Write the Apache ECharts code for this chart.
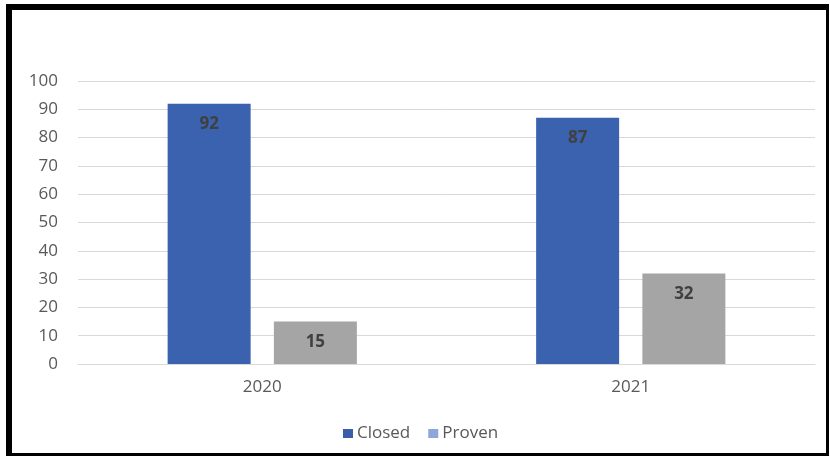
<!DOCTYPE html>
<html>
<head>
<meta charset="utf-8">
<script src="https://cdn.jsdelivr.net/npm/echarts@6/dist/echarts.min.js"></script>
<style>
html,body{margin:0;padding:0;background:#fff;}
#chart{width:830px;height:458px;}
</style>
</head>
<body>
<div id="chart"></div>
<script>
var categories = ['2020', '2021'];
var closedValues = [92, 87];
var provenValues = [15, 32];
var seriesNames = ['Closed', 'Proven'];
var yMin = 0, yMax = 100, yStep = 10;

var chart = echarts.init(document.getElementById('chart'), null, {renderer: 'canvas'});
var font = '"Open Sans", "DejaVu Sans", sans-serif';
var labelStyle = {
  show: true,
  position: 'insideTop',
  distance: 12,
  color: '#404040',
  fontWeight: 'bold',
  fontSize: 17,
  fontFamily: font
};
chart.setOption({
  animation: false,
  backgroundColor: '#fff',
  textStyle: {fontFamily: font},
  grid: {left: 78, right: 15, top: 81, bottom: 94, containLabel: false},
  legend: {
    left: 338,
    top: 420,
    itemWidth: 10,
    itemHeight: 9,
    itemGap: 18,
    textStyle: {color: '#595959', fontSize: 17, fontFamily: font, padding: [0, 0, 0, -1]},
    data: [
      {name: seriesNames[0], icon: 'rect', itemStyle: {color: '#3A5FA8'}},
      {name: seriesNames[1], icon: 'rect', itemStyle: {color: '#8EA6DA'}}
    ]
  },
  xAxis: {
    type: 'category',
    data: categories,
    axisLine: {lineStyle: {color: '#d9d9d9', width: 1}},
    axisTick: {show: false},
    axisLabel: {color: '#595959', fontSize: 17, fontFamily: font, margin: 15}
  },
  yAxis: {
    type: 'value',
    min: yMin,
    max: yMax,
    interval: yStep,
    axisLine: {show: false},
    axisTick: {show: false},
    splitLine: {lineStyle: {color: '#d9d9d9', width: 1}},
    axisLabel: {color: '#595959', fontSize: 17, fontFamily: font, margin: 20}
  },
  series: [
    {
      name: seriesNames[0],
      type: 'bar',
      data: closedValues,
      barWidth: 83,
      barGap: '28%',
      itemStyle: {color: '#3A62AE'},
      label: labelStyle
    },
    {
      name: seriesNames[1],
      type: 'bar',
      data: provenValues,
      barWidth: 83,
      itemStyle: {color: '#A5A5A5'},
      label: labelStyle
    }
  ],
  graphic: [
    {type: 'rect', shape: {x: 6, y: 4, width: 6, height: 452}, style: {fill: '#000'}, silent: true},
    {type: 'rect', shape: {x: 6, y: 4, width: 823, height: 6}, style: {fill: '#000'}, silent: true},
    {type: 'rect', shape: {x: 826, y: 4, width: 3, height: 452}, style: {fill: '#000'}, silent: true},
    {type: 'rect', shape: {x: 6, y: 453, width: 823, height: 3}, style: {fill: '#000'}, silent: true}
  ]
});
</script>
</body>
</html>
